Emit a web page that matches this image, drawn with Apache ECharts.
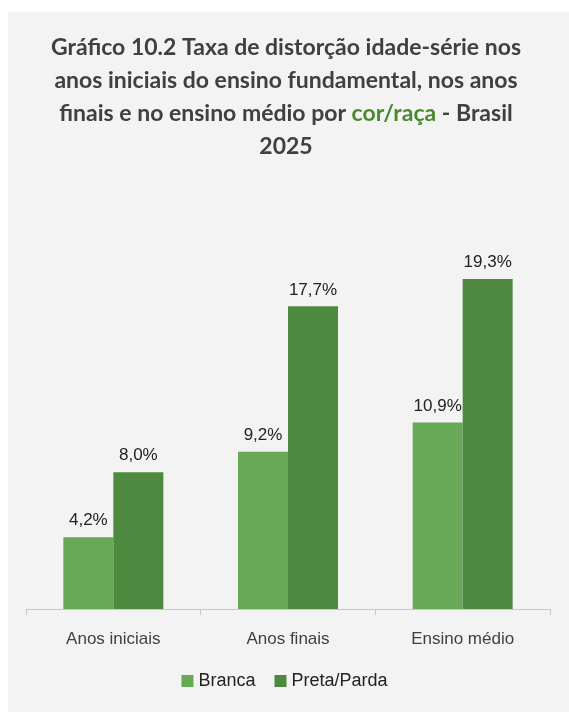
<!DOCTYPE html>
<html>
<head>
<meta charset="utf-8">
<script src="https://cdn.jsdelivr.net/npm/echarts@6/dist/echarts.min.js"></script>
<style>
  html, body { margin: 0; padding: 0; background: #ffffff; }
  #chart { width: 569px; height: 722px; }
</style>
</head>
<body>
<div id="chart"></div>
<script>
// dados
const categorias = ['Anos iniciais', 'Anos finais', 'Ensino médio']
const branca = [4.2, 9.2, 10.9]
const pretaParda = [8.0, 17.7, 19.3]
const seriesNames = ['Branca', 'Preta/Parda']

const chart = echarts.init(document.getElementById('chart'))
const labelFont = '"Liberation Sans Narrow", "Arial Narrow", "Liberation Sans", sans-serif'
const fmt = p => p.value.toFixed(1).replace('.', ',') + '%'
const titleStyle = { fontFamily: 'Lato, sans-serif', fontWeight: 'bold', fontSize: 23, fill: '#404040', lineHeight: 33 }

const option = {
  backgroundColor: '#ffffff',
  animation: false,
  graphic: [
    {
      type: 'rect',
      z: -10,
      shape: { x: 8, y: 12, width: 561, height: 700 },
      style: { fill: '#f3f3f3' }
    },
    {
      // título em texto rico, centralizado
      type: 'text',
      x: 286,
      y: 31,
      style: {
        text: '{t|Gráfico 10.2 Taxa de distorção idade-série nos}\n{t|anos iniciais do ensino fundamental, nos anos}\n{t|finais e no ensino médio por }{g|cor/raça}{t| - Brasil}\n{t|2025}',
        align: 'center',
        verticalAlign: 'top',
        fill: '#404040',
        rich: {
          t: titleStyle,
          g: Object.assign({}, titleStyle, { fill: '#4a8a2e' })
        }
      }
    }
  ],
  legend: {
    data: seriesNames,
    bottom: 27,
    left: 'center',
    icon: 'rect',
    itemWidth: 12,
    itemHeight: 12,
    itemGap: 19,
    textStyle: { fontFamily: labelFont, fontSize: 18, color: '#222' }
  },
  grid: { left: 26, right: 19, top: 267, bottom: 113 },
  xAxis: {
    type: 'category',
    data: categorias,
    axisLine: { lineStyle: { color: '#c8c8c8', width: 1 } },
    axisTick: { show: true, length: 6, lineStyle: { color: '#c8c8c8' } },
    axisLabel: { fontFamily: labelFont, fontSize: 17, color: '#404040', margin: 22 }
  },
  yAxis: {
    type: 'value',
    min: 0,
    max: 20,
    show: false,
    splitLine: { show: false }
  },
  series: [
    {
      name: seriesNames[0],
      type: 'bar',
      data: branca,
      barWidth: 50,
      barGap: '0%',
      itemStyle: { color: '#68a957' },
      label: { show: true, position: 'top', distance: 8, formatter: fmt, fontFamily: labelFont, fontSize: 17, color: '#222' }
    },
    {
      name: seriesNames[1],
      type: 'bar',
      data: pretaParda,
      barWidth: 50,
      barGap: '0%',
      itemStyle: { color: '#4e8940' },
      label: { show: true, position: 'top', distance: 8, formatter: fmt, fontFamily: labelFont, fontSize: 17, color: '#222' }
    }
  ]
}
chart.setOption(option)
</script>
</body>
</html>
